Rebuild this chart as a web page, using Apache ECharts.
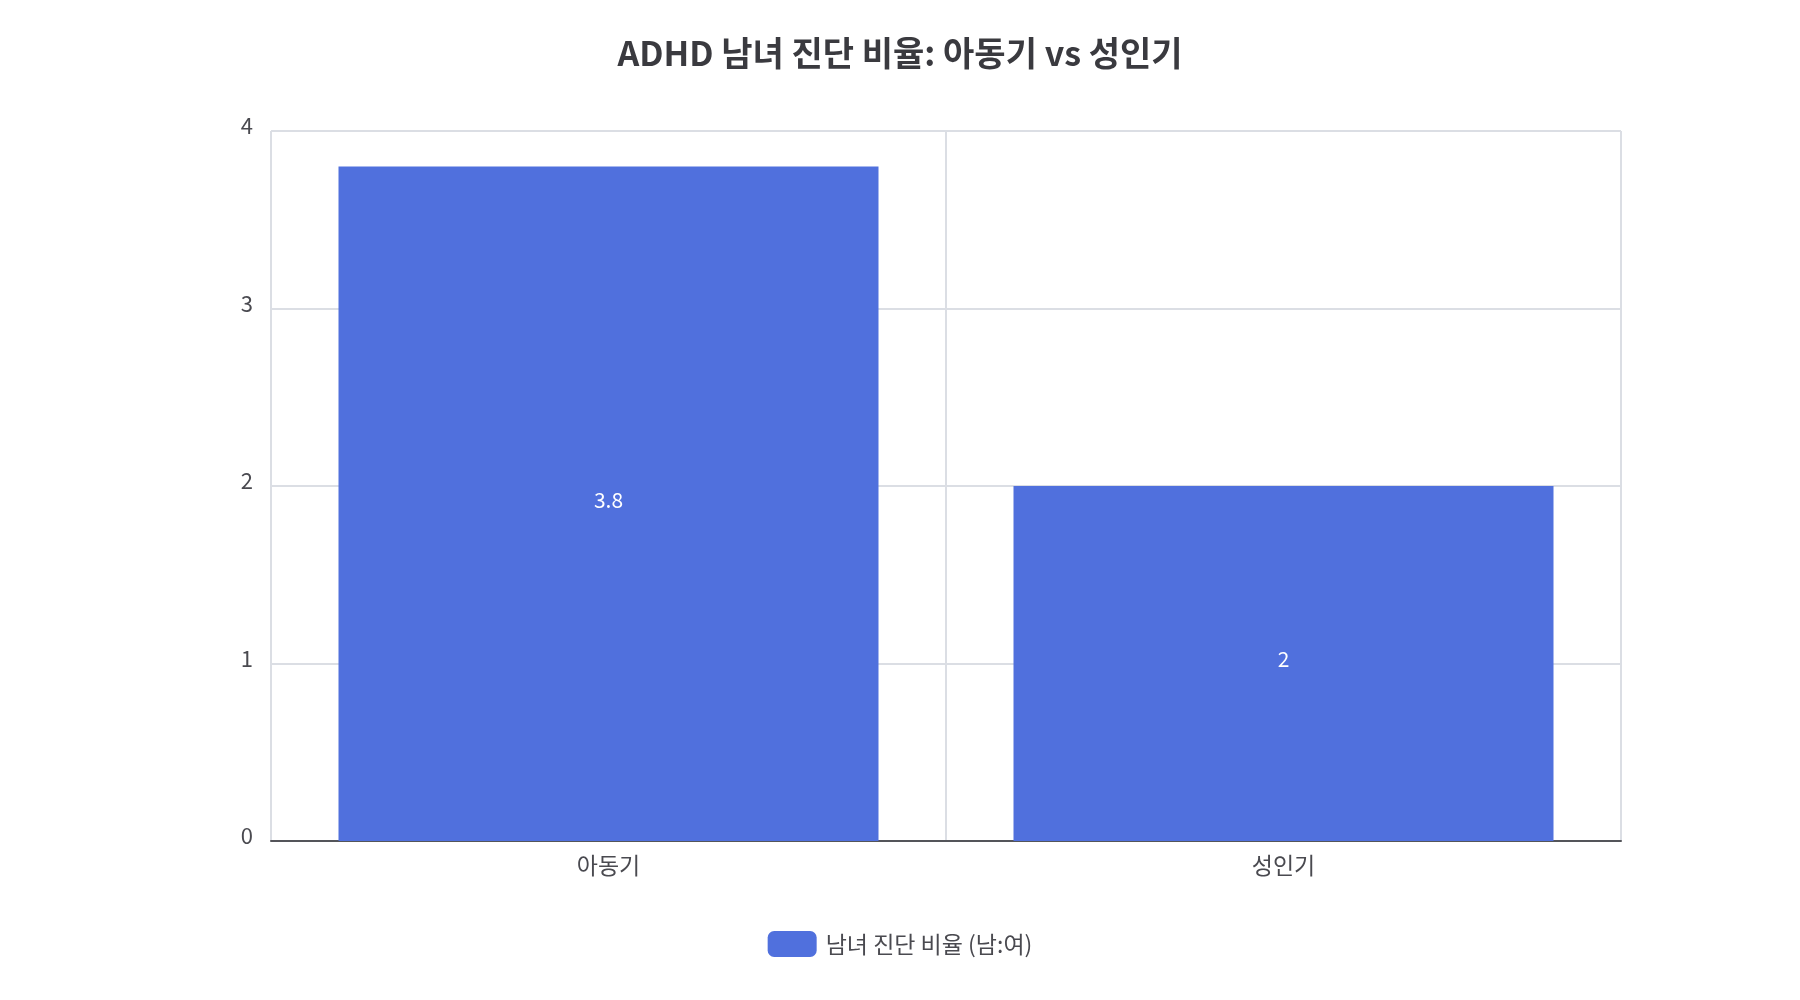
<!DOCTYPE html>
<html>
<head>
<meta charset="utf-8">
<script src="https://cdn.jsdelivr.net/npm/echarts@6/dist/echarts.min.js"></script>
<style>
  html, body { margin: 0; padding: 0; background: #fff; }
  #chart { width: 1800px; height: 1000px; }
</style>
</head>
<body>
<div id="chart"></div>
<script>
  // 데이터
  var titleText = 'ADHD 남녀 진단 비율: 아동기 vs 성인기';
  var categories = ['아동기', '성인기'];
  var seriesName = '남녀 진단 비율 (남:여)';
  var ratioValues = [3.8, 2];

  var font = '"Noto Sans CJK KR", "Noto Sans", sans-serif';
  var chart = echarts.init(document.getElementById('chart'));

  chart.setOption({
    backgroundColor: '#ffffff',
    title: {
      text: titleText,
      left: 'center',
      top: 31,
      textStyle: { fontFamily: font, fontSize: 34, fontWeight: 'bold', color: '#3a3a3f' }
    },
    grid: { left: 271, right: 179, top: 131, bottom: 159 },
    legend: {
      bottom: 38,
      left: 'center',
      itemWidth: 49,
      itemHeight: 26,
      itemGap: 20,
      icon: 'roundRect',
      textStyle: { fontFamily: font, fontSize: 23, color: '#4a4a50', padding: [0, 0, 0, 4] },
      data: [seriesName]
    },
    xAxis: {
      type: 'category',
      data: categories,
      axisTick: { show: false },
      axisLine: { lineStyle: { color: '#54555a', width: 2 } },
      axisLabel: { fontFamily: font, fontSize: 23, color: '#4a4a50', margin: 13 },
      splitLine: { show: true, lineStyle: { color: '#dbdee4', width: 2 } }
    },
    yAxis: {
      type: 'value',
      min: 0,
      max: 4,
      interval: 1,
      axisLine: { show: false },
      axisTick: { show: false },
      axisLabel: {
        fontFamily: font, fontSize: 22, color: '#4a4a50', margin: 18,
        verticalAlign: 'bottom', lineHeight: 10
      },
      splitLine: { lineStyle: { color: '#dbdee4', width: 2 } }
    },
    series: [{
      name: seriesName,
      type: 'bar',
      data: ratioValues,
      barCategoryGap: '20%',
      itemStyle: { color: '#5070dd' },
      label: {
        show: true,
        position: 'inside',
        offset: [0, -4],
        fontFamily: font,
        fontSize: 21,
        color: '#ffffff'
      }
    }]
  });
</script>
</body>
</html>
